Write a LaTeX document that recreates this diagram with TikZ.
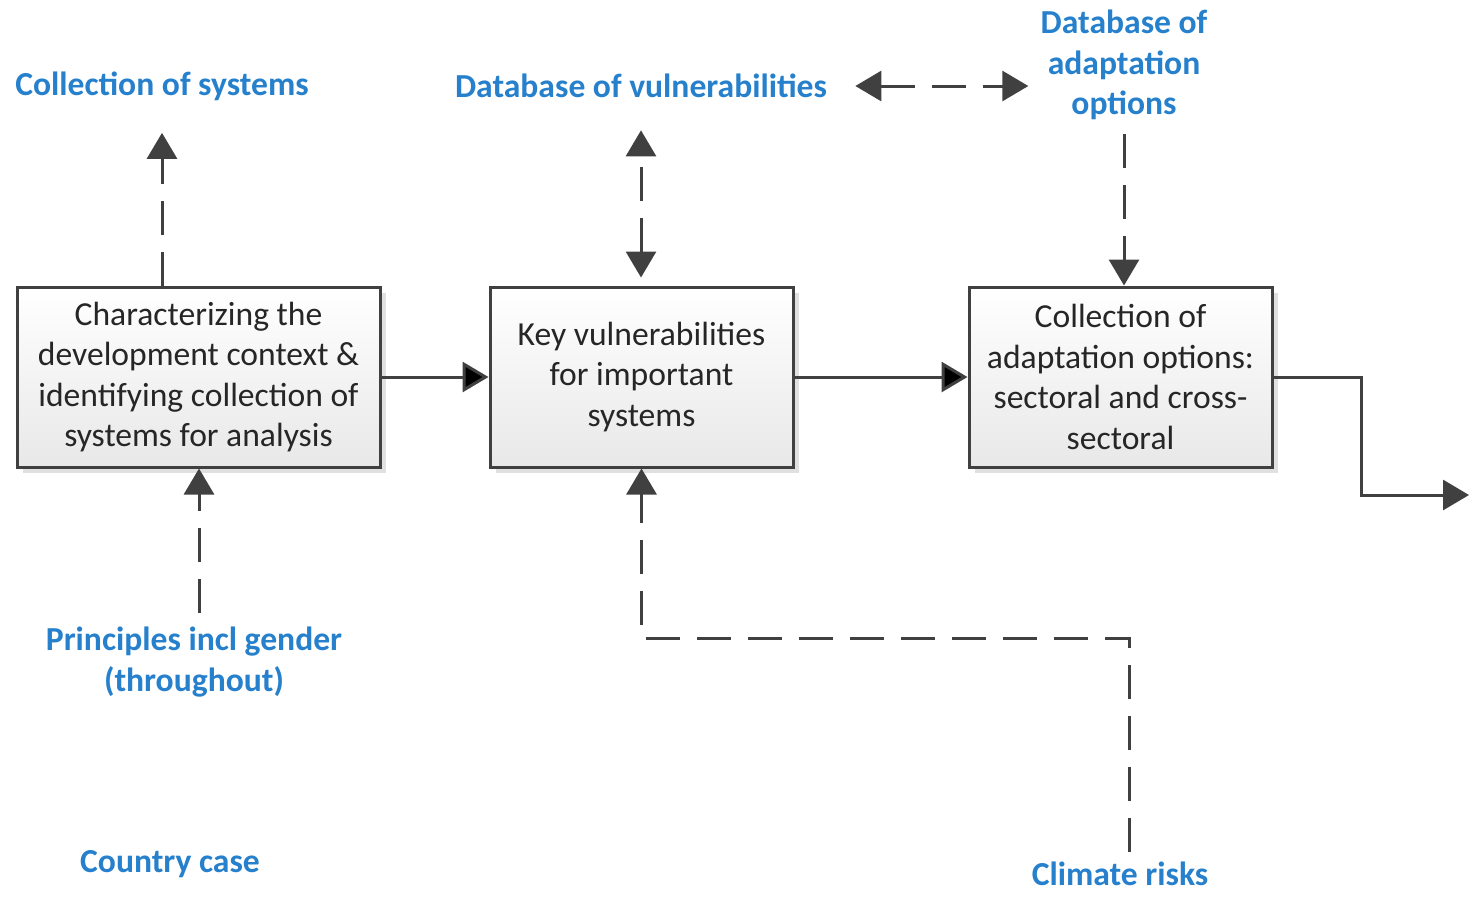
\documentclass[tikz,border=0pt]{standalone}
\usepackage{fontspec}
\setmainfont{Carlito}
\usepackage{tikz}
\usetikzlibrary{arrows.meta,shadows}
\definecolor{linegray}{HTML}{404040}
\definecolor{infoblue}{HTML}{2680CC}
\tikzset{stage/.style = {draw=linegray, line width=1.5pt, top color=white, bottom color=black!9, drop shadow={shadow xshift=3pt, shadow yshift=-3pt, fill=black!12, opacity=1}, minimum height=90pt, align=center, text=black!85, font=\fontsize{16.8}{20.25}\selectfont}}
\tikzset{info/.style = {text=infoblue, align=center, inner sep=0pt, font=\fontsize{16.8}{20.25}\selectfont\bfseries}}
\tikzset{flow/.style = {draw=linegray, line width=1.5pt, -{Triangle[length=13pt, width=15pt]}}}
\tikzset{link/.style = {flow, dash pattern=on 17pt off 8.5pt}}

\begin{document}
\begin{tikzpicture}[x=0.5pt, y=-0.5pt]
\useasboundingbox (0,0) rectangle (1470,896);

\node[stage, minimum width=181.5pt] (c1) at (198.5,377) {Characterizing the\\development context \&\\identifying collection of\\systems for analysis};
\node[stage, minimum width=151.5pt] (c2) at (641.5,377) {Key vulnerabilities\\for important\\systems};
\node[stage, minimum width=151.5pt] (c3) at (1120.5,377) {Collection of\\adaptation options:\\sectoral and cross-\\sectoral};

\node[info] (sys) at (162,86) {Collection of systems};
\node[info] (vuln) at (641,86) {Database of vulnerabilities};
\node[info] (adapt) at (1124,65) {Database of\\adaptation\\options};
\node[info] (gender) at (194,662) {Principles incl gender\\(throughout)};
\node[info] (country) at (170,864) {Country case};
\node[info] (climate) at (1120,874) {Climate risks};
\coordinate (out) at (1469,495);
\coordinate (turn) at (1129,638);

% main flow
\path [flow] (c1) edge (c2);
\path [flow] (c2) edge (c3);
\draw [flow] (c3.east) -- ++(88,0) |- (out);

% inputs and databases
\draw [link] (c1.north -| sys) -- (sys.south) [shorten >=16pt];
\draw [link, {Triangle[length=13pt, width=15pt]}-{Triangle[length=13pt, width=15pt]}, shorten <=4pt, shorten >=16pt] (c2.north -| vuln) -- (vuln.south);
\draw [link, {Triangle[length=13pt, width=15pt]}-{Triangle[length=13pt, width=15pt]}, shorten <=14pt, shorten >=6pt] (vuln.east) -- (adapt.west |- vuln.east);
\draw [link, shorten <=7pt] (adapt.south) -- (c3.north -| adapt);
\draw [link, shorten <=7pt] ([xshift=2.5pt]gender.north) -- ([xshift=2.5pt]c1.south -| gender);
\draw [link, shorten <=5pt] (climate.north -| turn) -- (turn) -| (c2.south);
\end{tikzpicture}
\end{document}
